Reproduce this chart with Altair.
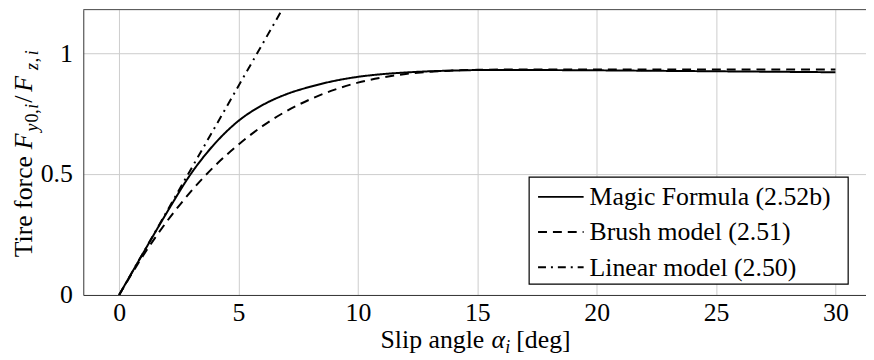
import altair as alt
import pandas as pd

# ---------------- data ----------------
series_names = ["Magic Formula (2.52b)", "Brush model (2.51)", "Linear model (2.50)"]

mf_alpha = [0, 1, 2, 3, 4, 5, 6, 7, 8, 9, 10, 11, 12, 13, 14, 15, 17.5, 20, 22.5, 25, 27.5, 30]
mf_force = [0, 0.172, 0.341, 0.500, 0.625, 0.720, 0.785, 0.830, 0.861, 0.885, 0.902,
            0.913, 0.920, 0.925, 0.928, 0.930, 0.930, 0.929, 0.927, 0.925, 0.923, 0.921]

brush_alpha = [0, 1, 2, 3, 4, 5, 6, 7, 8, 9, 10, 11, 12, 13, 14, 15, 16, 20, 25, 30]
brush_force = [0, 0.162, 0.304, 0.427, 0.533, 0.622, 0.698, 0.760, 0.809, 0.848, 0.878,
               0.899, 0.914, 0.923, 0.928, 0.931, 0.932, 0.932, 0.932, 0.932]

lin_alpha = [0, 7]
lin_force = [0, 1.21]

x_ticks = [0, 5, 10, 15, 20, 25, 30]
y_ticks = [0, 0.5, 1]

# ---------------- build table ----------------
df = pd.concat([
    pd.DataFrame({"alpha": mf_alpha, "force": mf_force, "series": series_names[0]}),
    pd.DataFrame({"alpha": brush_alpha, "force": brush_force, "series": series_names[1]}),
    pd.DataFrame({"alpha": lin_alpha, "force": lin_force, "series": series_names[2]}),
], ignore_index=True)

one = pd.DataFrame({"k": [0]})

FONT = "Liberation Serif"
FS = 26
SUB = 18
W, H = 790, 288
DASHES = [[1, 0], [9, 6], [8, 5, 2, 5]]

x_scale = alt.Scale(domain=[-1.5, 31.28], nice=False, zero=False)
y_scale = alt.Scale(domain=[0, 1.18], nice=False, zero=False)
dash_scale = alt.Scale(domain=series_names, range=DASHES)

lines = alt.Chart(df).mark_line(
    color="black", strokeWidth=2, clip=True, interpolate="monotone"
).encode(
    x=alt.X("alpha:Q", scale=x_scale, title=None,
            axis=alt.Axis(values=x_ticks, labelBaseline="alphabetic", labelPadding=26)),
    y=alt.Y("force:Q", scale=y_scale, title=None,
            axis=alt.Axis(values=y_ticks, format="~g", labelBaseline="middle", labelPadding=11)),
    strokeDash=alt.StrokeDash("series:N", scale=dash_scale, legend=None),
)

top_rule = alt.Chart(one).mark_rule(color="#444444", strokeWidth=1).encode(
    y=alt.value(0), x=alt.value(0), x2=alt.value(W)
)


def piece(text, x, y, size=FS, style="normal", angle=0):
    kw = dict(text=text, font=FONT, fontSize=size, fontStyle=style,
              align="left", baseline="alphabetic", color="black")
    if angle:
        kw["angle"] = angle
    return alt.Chart(one).mark_text(**kw).encode(x=alt.value(x), y=alt.value(y))


# y-axis title: Tire force F_{y0,i}/F_{z,i}  (rotated)
ytitle = [
    piece("Tire force", -52, 250, angle=270),
    piece("F", -52, 141, style="italic", angle=270),
    piece("y", -46, 123, size=SUB, style="italic", angle=270),
    piece("0,", -46, 114, size=SUB, angle=270),
    piece("i", -46, 100, size=SUB, style="italic", angle=270),
    piece("/", -52, 94, angle=270),
    piece("F", -52, 83, style="italic", angle=270),
    piece("z", -46, 61, size=SUB, style="italic", angle=270),
    piece(",", -46, 53, size=SUB, angle=270),
    piece("i", -46, 46, size=SUB, style="italic", angle=270),
]

# x-axis title: Slip angle alpha_i [deg]
xtitle = [
    piece("Slip angle", 300, 342),
    piece("\u03b1", 412, 342, style="italic"),
    piece("i", 426, 347, size=SUB, style="italic"),
    piece("[deg]", 437, 342),
]

# legend (drawn inside the plot, lower right)
legend_box = alt.Chart(one).mark_rect(
    fill="white", stroke="black", strokeWidth=1.2
).encode(x=alt.value(450), x2=alt.value(772), y=alt.value(169), y2=alt.value(277))

row_y = [189, 224.5, 260]
legend_layers = [legend_box]
for name, dash, ry in zip(series_names, DASHES, row_y):
    legend_layers.append(
        alt.Chart(one).mark_rule(color="black", strokeWidth=2, strokeDash=dash).encode(
            x=alt.value(459), x2=alt.value(505), y=alt.value(ry)
        )
    )
    legend_layers.append(piece(name, 511, ry + 8.5))

chart = alt.layer(lines, top_rule, *legend_layers, *ytitle, *xtitle).properties(
    width=W, height=H,
    autosize=alt.AutoSizeParams(type="none"),
    padding={"left": 76, "top": 0, "right": 0, "bottom": 64},
).configure_view(
    stroke="transparent"
).configure_axis(
    grid=True, gridColor="#cccccc", gridWidth=1,
    ticks=False, tickSize=0,
    domain=True, domainColor="#333333", domainWidth=1,
    labelFont=FONT, labelFontSize=FS, labelColor="black",
    labelFlush=False, labelOverlap=False,
)

chart.save("out.html", embed_options={"renderer": "svg", "actions": False})
